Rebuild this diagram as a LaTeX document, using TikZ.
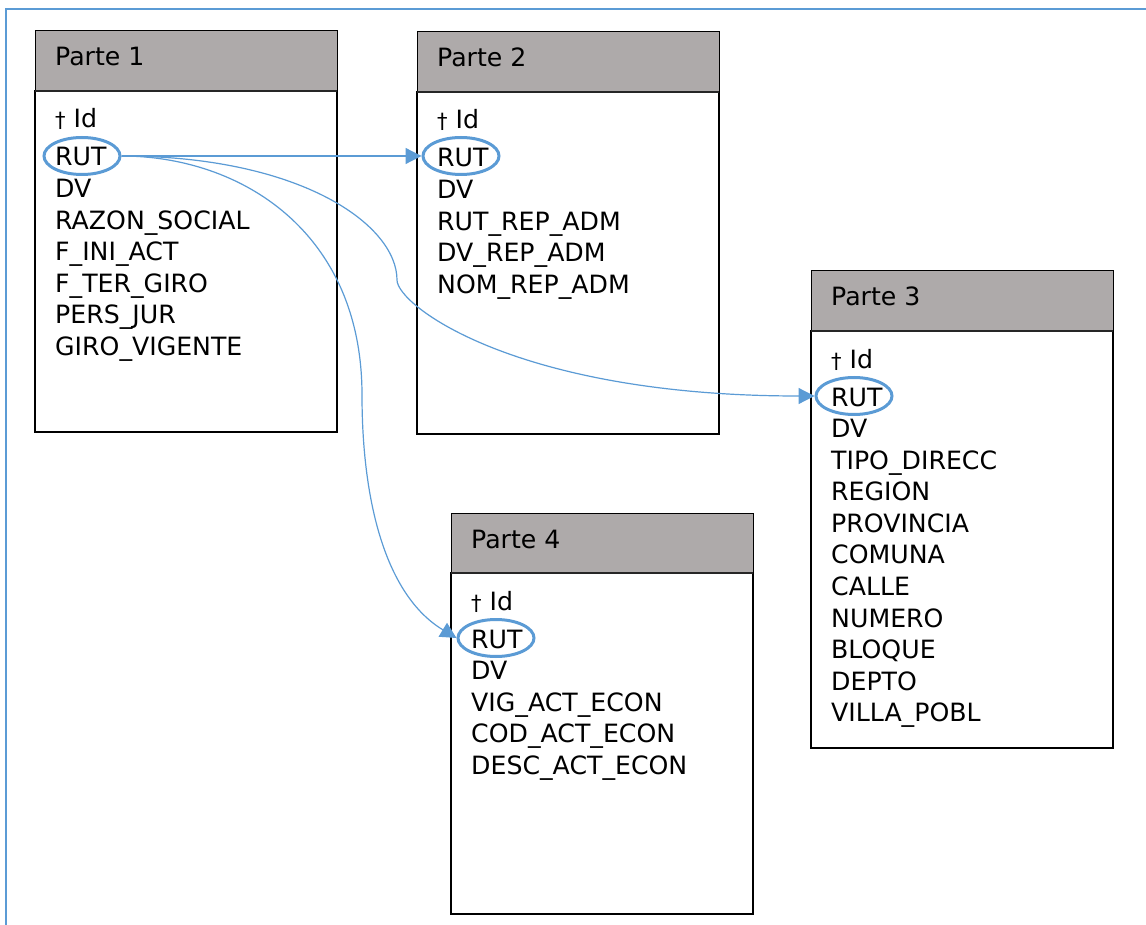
\documentclass[tikz,border=0pt]{standalone}
\usepackage{fontspec}
\setmainfont{DejaVu Sans}
\usetikzlibrary{shapes.geometric,arrows.meta}
\definecolor{linkblue}{HTML}{5B9BD5}
\definecolor{hdrgray}{HTML}{AEAAAA}
\newcommand\fldfont{\fontsize{25.2}{28}\selectfont}
\newcommand\dagid{{\fontsize{21}{21}\selectfont †}\hspace{8pt}Id}
\tikzset{
  hdr/.style={draw, fill=hdrgray, line width=1pt, minimum width=302pt, minimum height=60pt, anchor=north west, inner sep=0pt, outer sep=0pt},
  tbody/.style={draw, fill=white, line width=1.1pt, minimum width=302pt, anchor=north west, inner sep=0pt, outer sep=0pt},
  fld/.style={anchor=base west, inner sep=0pt, font=\fldfont},
  rutmark/.style={draw=linkblue, line width=3pt, ellipse, minimum width=76pt, minimum height=37pt, inner sep=0pt},
  link/.style={draw=linkblue, line width=1.2pt, -{Triangle[length=16pt,width=16pt]}},
  frame/.style={draw=linkblue, line width=1.5pt}
}
% #1 name, #2 left x, #3 top y, #4 body height, #5 title, #6 fields after DV
\newcommand\dbtable[6]{%
  \node[tbody, minimum height=#4pt] (#1b) at (#2,#3+60) {};
  \node[hdr] (#1h) at (#2,#3) {};
  \draw[line width=2.2pt, draw=black!85] (#1h.south west) -- (#1h.south east);
  \node[fld] (#1t) at (#2+20,#3+35) {#5};
  \node[fld] (#1id) at (#2+20,#3+97) {\dagid};
  \node[fld] (#1rutt) at (#2+20,#3+135) {RUT};
  \foreach \f [count=\i] in {#6} {
    \node[fld] (#1f\i) at (#2+20,#3+166.5+31.6*\i-31.6) {\f};
  }
}
\begin{document}
\begin{tikzpicture}[x=1pt,y=-1pt]
\useasboundingbox (0,0) rectangle (1146,925);
\coordinate (fa) at (6,925);
\coordinate (fb) at (6,9);
\coordinate (fc) at (1146,9);
\draw[frame] (fa) -- (fb) -- (fc);

\dbtable{p1}{35}{31}{341}{Parte 1}{DV,RAZON\_SOCIAL,F\_INI\_ACT,F\_TER\_GIRO,PERS\_JUR,GIRO\_VIGENTE}
\dbtable{p2}{417}{32}{342}{Parte 2}{DV,RUT\_REP\_ADM,DV\_REP\_ADM,NOM\_REP\_ADM}
\dbtable{p3}{811}{271}{417}{Parte 3}{DV,TIPO\_DIRECC,REGION,PROVINCIA,COMUNA,CALLE,NUMERO,BLOQUE,DEPTO,VILLA\_POBL}
\dbtable{p4}{451}{513}{341}{Parte 4}{DV,VIG\_ACT\_ECON,COD\_ACT\_ECON,DESC\_ACT\_ECON}

\node[rutmark] (p1rut) at (82,156) {};
\node[rutmark] (p2rut) at (461,156) {};
\node[rutmark] (p3rut) at (854,396) {};
\node[rutmark] (p4rut) at (496,638) {};

\coordinate (m3) at (397,280);
\coordinate (m4) at (362,395);

\draw[link] (p1rut.east) -- (p2rut.west);
\draw[link] (p1rut.east) .. controls (301,156) and (397,225) .. (m3)
  .. controls (397,305) and (515,396) .. (p3rut.west);
\draw[link] (p1rut.east) .. controls (241,156) and (362,232) .. (m4)
  .. controls (362,500) and (385,595) .. (p4rut.west);
\end{tikzpicture}
\end{document}
